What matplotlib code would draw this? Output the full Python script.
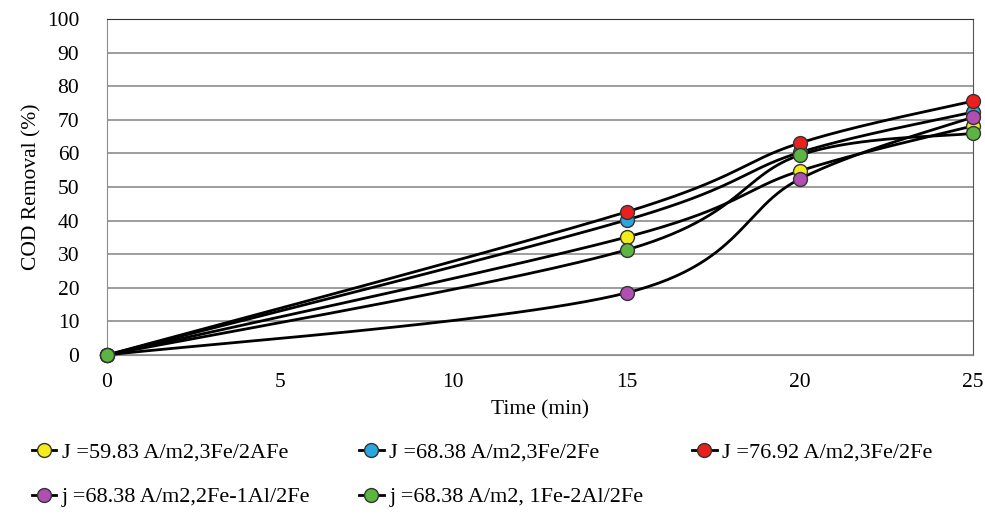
import numpy as np
import matplotlib.pyplot as plt
from matplotlib.lines import Line2D

# Sampling times (min)
time = [0, 15, 20, 25]

# COD removal (%) for each run
cod_j5983_3fe = [0, 35.1, 54.8, 68.2]
cod_j6838_3fe = [0, 40.2, 60.3, 72.3]
cod_j7692_3fe = [0, 42.6, 63.1, 75.6]
cod_j6838_2fe1al = [0, 18.5, 52.4, 70.8]
cod_j6838_1fe2al = [0, 31.3, 59.5, 66.0]

labels = [
    "J =59.83 A/m2,3Fe/2AFe",
    "J =68.38 A/m2,3Fe/2Fe",
    "J =76.92 A/m2,3Fe/2Fe",
    "j =68.38 A/m2,2Fe-1Al/2Fe",
    "j =68.38 A/m2, 1Fe-2Al/2Fe",
]
colors = ["#f5ec1c", "#2aa7e0", "#e8211f", "#b04fb2", "#5cb543"]
series = [cod_j5983_3fe, cod_j6838_3fe, cod_j7692_3fe, cod_j6838_2fe1al, cod_j6838_1fe2al]


def smooth(xs, ys, n=60):
    """Excel-style smoothed line: Catmull-Rom as cubic Bezier segments."""
    p = np.column_stack([xs, ys]).astype(float)
    p = np.vstack([p[0], p, p[-1]])
    t = np.linspace(0, 1, n)[:, None]
    out = []
    for i in range(1, len(p) - 2):
        p0, p1, p2, p3 = p[i - 1], p[i], p[i + 1], p[i + 2]
        c1 = p1 + (p2 - p0) / 6
        c2 = p2 - (p3 - p1) / 6
        seg = ((1 - t) ** 3) * p1 + 3 * ((1 - t) ** 2) * t * c1 + 3 * (1 - t) * t ** 2 * c2 + t ** 3 * p2
        out.append(seg)
    out = np.vstack(out)
    return out[:, 0], out[:, 1]


plt.rcParams["font.family"] = ["Liberation Serif", "DejaVu Serif"]

fig = plt.figure(figsize=(9.85, 5.16), dpi=100)
ax = fig.add_axes([0.1086, 0.312, 0.8792, 0.651])

for ys in series:
    sx, sy = smooth(time, ys)
    ax.plot(sx, sy, color="black", lw=2, zorder=3, solid_capstyle="round", clip_on=False)
for ys, c in zip(series, colors):
    ax.plot(time, ys, ls="none", marker="o", ms=10, mfc=c, mec="#333333", mew=1,
            zorder=4, clip_on=False)

ax.set_xlim(0, 25)
ax.set_ylim(0, 100)
ax.set_xticks([0, 5, 10, 15, 20, 25])
ax.set_yticks(range(0, 101, 10))
ax.yaxis.grid(True, color="#8c8c8c", lw=1.2)
ax.set_axisbelow(True)
for s in ["left", "bottom"]:
    ax.spines[s].set_color("#8c8c8c")
ax.spines["top"].set_color("#333333")
ax.spines["right"].set_color("#555555")
ax.tick_params(axis="both", length=0, labelsize=15.5)
ax.tick_params(axis="y", pad=20)
ax.tick_params(axis="x", pad=13)
ax.set_xlabel("Time (min)", fontsize=15.5, labelpad=6)
ax.set_ylabel("COD Removal (%)", fontsize=15.5, labelpad=4)

handles = [Line2D([], [], color="black", lw=2, marker="o", ms=10, mfc=c, mec="#333333")
           for c in colors]
order = [0, 3, 1, 4, 2]
fig.legend([handles[i] for i in order], [labels[i] for i in order],
           loc="lower left", bbox_to_anchor=(0.012, -0.022), ncol=3, frameon=False,
           fontsize=16, handlelength=1.1, handletextpad=0.25, columnspacing=2.2,
           labelspacing=1.1)

fig.savefig("out.png", dpi=100)
